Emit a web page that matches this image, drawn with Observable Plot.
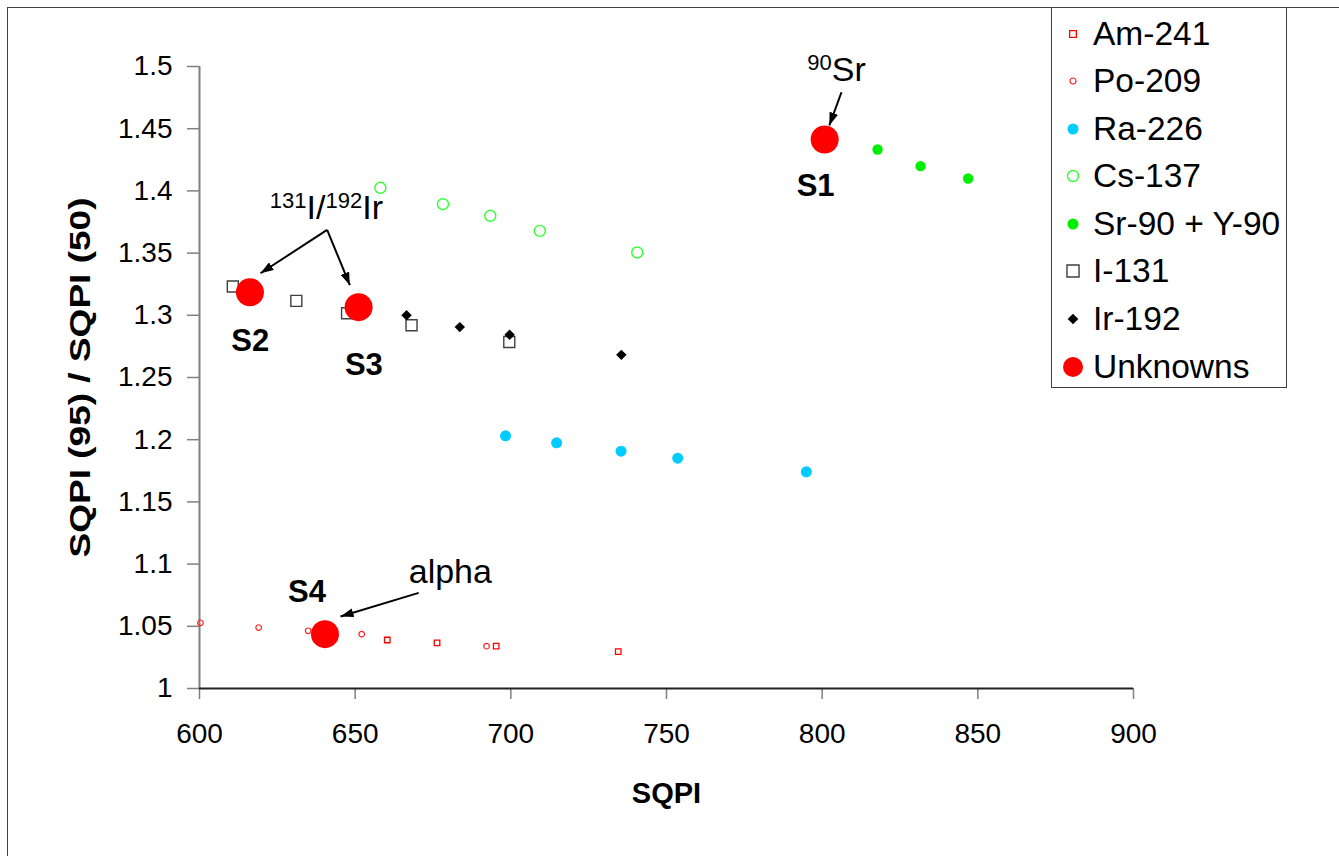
<!DOCTYPE html>
<html><head><meta charset="utf-8">
<script src="https://cdn.jsdelivr.net/npm/d3@7"></script>
<script src="https://cdn.jsdelivr.net/npm/@observablehq/plot@0.6"></script>
<style>
body{margin:0;background:#fff;overflow:hidden;font-family:"Liberation Sans",Arial,sans-serif;}
#wrap{position:relative;width:1339px;height:856px;overflow:hidden;}
#wrap svg.main{position:absolute;left:0;top:0;}
#frame{position:absolute;left:7px;top:7px;width:2000px;height:2000px;border:1.5px solid #404040;}
#legend{position:absolute;left:1051px;top:7px;width:236px;height:381px;border:1.5px solid #404040;background:#fff;box-sizing:border-box;}
.lrow{position:absolute;left:0;height:40px;display:flex;align-items:center;}
.lrow span{font-size:33.5px;color:#000;white-space:nowrap;}
</style></head><body><div id="wrap"></div>
<script>
// ---- data ----
const amX = [660.3, 676.3, 695.3, 734.5];
const amY = [1.039, 1.0367, 1.034, 1.0297];
const poX = [600.3, 619.0, 634.9, 652.1, 692.2];
const poY = [1.0528, 1.049, 1.0464, 1.0437, 1.034];
const raX = [698.3, 714.7, 735.4, 753.6, 794.9];
const raY = [1.2031, 1.1975, 1.1908, 1.1851, 1.1742];
const csX = [658.1, 678.2, 693.4, 709.3, 740.6];
const csY = [1.4025, 1.3893, 1.3800, 1.3679, 1.3505];
const srX = [817.8, 831.6, 846.9];
const srY = [1.4333, 1.4199, 1.4100];
const iX = [610.7, 631.1, 647.4, 668.1, 699.5];
const iY = [1.3232, 1.3116, 1.3017, 1.2920, 1.2785];
const irX = [666.5, 683.6, 699.6, 735.5];
const irY = [1.3001, 1.2905, 1.2843, 1.2682];
const unkX = [800.8, 616.2, 651.1, 640.3];
const unkY = [1.4413, 1.3185, 1.3065, 1.0437];

const xTicks = [600, 650, 700, 750, 800, 850, 900];
const yTicks = [1, 1.05, 1.1, 1.15, 1.2, 1.25, 1.3, 1.35, 1.4, 1.45, 1.5];
const xTitle = "SQPI";
const yTitle = "SQPI (95) / SQPI (50)";

const sampleLabels = ["S1", "S2", "S3", "S4"];
const sampleLabelX = [797.9, 616.3, 652.8, 634.5];
const sampleLabelY = [1.3963, 1.2711, 1.2524, 1.0694];

const noteLabels = ["^{90}Sr", "^{131}I/^{192}Ir", "alpha"];
const noteX = [795.2, 622.6, 667.2];
const noteY = [1.4882, 1.3776, 1.0850];

const arrowX1 = [806.2, 641.0, 641.0, 670.4];
const arrowY1 = [1.4793, 1.3687, 1.3687, 1.0769];
const arrowX2 = [802.3, 619.6, 648.3, 645.3];
const arrowY2 = [1.4526, 1.3338, 1.3242, 1.0579];

const seriesNames = ["Am-241", "Po-209", "Ra-226", "Cs-137", "Sr-90 + Y-90", "I-131", "Ir-192", "Unknowns"];
const seriesX = [amX, poX, raX, csX, srX, iX, irX, unkX];
const seriesY = [amY, poY, raY, csY, srY, iY, irY, unkY];
const seriesSymbol = ["square", "circle", "circle", "circle", "circle", "square", "diamond2", "circle"];
const seriesFill = ["none", "none", "#00ccff", "none", "#00ee00", "none", "#000000", "#ff0000"];
const seriesStroke = ["#ff0000", "#ff2020", "none", "#33ff33", "none", "#404040", "none", "none"];
const seriesR = [3.1, 2.8, 5.5, 5.5, 5.2, 6.2, 4.7, 14];
const legendR = [3.8, 3.0, 5.5, 5.5, 5.5, 6.8, 4.8, 10];
const seriesSW = [1.3, 1.2, 0, 1.4, 0, 1.4, 0, 0];

// ---- build ----
const FONT = '"Liberation Sans", Arial, sans-serif';
const dotMarks = seriesNames.map((name, k) => Plot.dot(
  seriesX[k].map((x, i) => ({x, y: seriesY[k][i]})),
  {x: "x", y: "y", symbol: () => seriesSymbol[k], r: seriesR[k], fill: seriesFill[k],
   stroke: seriesStroke[k], strokeWidth: seriesSW[k]}
));

const labels = sampleLabels.map((t, i) => ({t, x: sampleLabelX[i], y: sampleLabelY[i]}));
const notes = noteLabels.map((t, i) => ({t, x: noteX[i], y: noteY[i]}));
const arrows = arrowX1.map((x1, i) => ({x1, y1: arrowY1[i], x2: arrowX2[i], y2: arrowY2[i]}));

const chart = Plot.plot({
  width: 1339, height: 856,
  marginLeft: 199, marginRight: 206, marginTop: 66, marginBottom: 168,
  style: {fontFamily: FONT, background: "transparent", color: "#000"},
  x: {domain: [600, 900]},
  y: {domain: [1, 1.5]},
  marks: [
    Plot.axisX({ticks: xTicks, tickSize: 11, tickPadding: 24, fontSize: 28, label: null, stroke: "#808080", strokeWidth: 1.5, tickFormat: d => String(d)}),
    Plot.axisY({ticks: yTicks, tickSize: 12, tickPadding: 15, fontSize: 28, label: null, stroke: "#808080", strokeWidth: 1.5, tickFormat: d => String(+d.toFixed(2))}),
    Plot.ruleX([600], {stroke: "#808080", strokeWidth: 2}),
    Plot.ruleY([1], {stroke: "#222", strokeWidth: 2}),
    ...dotMarks,
    Plot.link(arrows, {x1: "x1", y1: "y1", x2: "x2", y2: "y2", stroke: "#000", strokeWidth: 2, markerEnd: "arrow"}),
    Plot.text(labels, {x: "x", y: "y", text: "t", fontSize: 31, fontWeight: "bold", lineAnchor: "bottom", textAnchor: "middle", fill: "#000"}),
    Plot.text(notes, {x: "x", y: "y", text: "t", fontSize: 34, lineAnchor: "bottom", textAnchor: "start", fill: "#000"}),
    Plot.text([xTitle], {frameAnchor: "bottom", dy: 105, text: d => d, fontSize: 29, fontWeight: "bold", lineAnchor: "middle", textAnchor: "middle"}),
    Plot.text([yTitle], {frameAnchor: "left", dx: -119, rotate: -90, text: d => d, fontSize: 29, fontWeight: "bold", lineAnchor: "middle", textAnchor: "middle"})
  ]
});
chart.classList.add("main");

d3.select(chart).selectAll("text").each(function() {
  const s = this.textContent;
  // stretch the rotated axis title like the original
  if (s === yTitle) {
    this.setAttribute("textLength", 360);
    this.setAttribute("lengthAdjust", "spacingAndGlyphs");
    return;
  }
  // superscripts
  if (!s.includes("^{")) return;
  this.textContent = "";
  const re = /\^\{([^}]*)\}|([^^]+)/g;
  let m, raised = false;
  while ((m = re.exec(s))) {
    const ts = d3.select(this).append("tspan");
    if (m[1] !== undefined) {
      ts.text(m[1]).attr("font-size", 22).attr("dy", raised ? 0 : -11);
      raised = true;
    } else {
      ts.text(m[2]).attr("dy", raised ? 11 : 0);
      raised = false;
    }
  }
});

// filled arrowheads
d3.select(chart).selectAll("marker").each(function() {
  const mk = d3.select(this);
  mk.attr("viewBox", "-13 -4.5 13 9").attr("markerWidth", 6.5).attr("markerHeight", 4.5)
    .attr("refX", 0).attr("refY", 0)
    .attr("fill", "#000").attr("stroke", "none");
  mk.selectAll("*").remove();
  mk.append("path").attr("d", "M-13,-4.5L0,0L-13,4.5Z");
});

const wrap = document.getElementById("wrap");
wrap.appendChild(chart);
const frame = document.createElement("div"); frame.id = "frame"; wrap.appendChild(frame);

// legend
const legend = document.createElement("div"); legend.id = "legend"; wrap.appendChild(legend);
const rowCenters = [33, 80, 128, 175, 223, 270, 318, 366];
seriesNames.forEach((name, k) => {
  const row = document.createElement("div");
  row.className = "lrow";
  row.style.top = (rowCenters[k] - 7 - 20) + "px";
  const svg = d3.create("svg").attr("width", 41).attr("height", 40);
  const sym = {square: d3.symbolSquare, circle: d3.symbolCircle, diamond2: d3.symbolDiamond2}[seriesSymbol[k]];
  svg.append("path")
    .attr("transform", "translate(21,20)")
    .attr("d", d3.symbol(sym, Math.PI * legendR[k] * legendR[k])())
    .attr("fill", seriesFill[k]).attr("stroke", seriesStroke[k]).attr("stroke-width", seriesSW[k]);
  row.appendChild(svg.node());
  const sp = document.createElement("span"); sp.textContent = name;
  row.appendChild(sp);
  legend.appendChild(row);
});
</script></body></html>
